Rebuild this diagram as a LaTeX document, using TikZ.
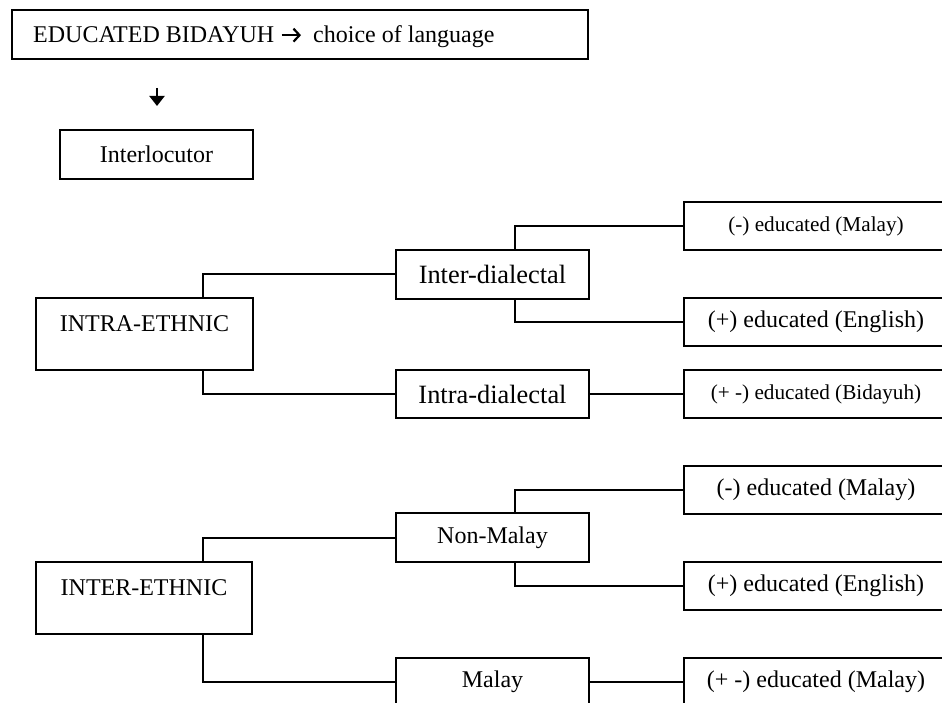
\documentclass[tikz,border=0pt]{standalone}
\usepackage{fontspec}
\setmainfont{Liberation Serif}
\usetikzlibrary{arrows.meta}
\tikzset{
  box/.style={draw=black, line width=2pt, rectangle, inner sep=0pt, fill=none},
  conn/.style={draw=black, line width=2pt},
  ftmain/.style={font=\fontsize{24}{28}\selectfont},
  ftbig/.style={font=\fontsize{26.4}{30}\selectfont},
  ftsmall/.style={font=\fontsize{21.2}{25}\selectfont},
}
\begin{document}
\begin{tikzpicture}[x=1pt,y=-1pt]
\path[use as bounding box, clip] (0,0) rectangle (942,703);
\fill[white] (0,0) rectangle (942,703);

% top box
\node[box, minimum width=576pt, minimum height=49pt] (top) at (300,34.5) {};
\node[ftmain, anchor=base west, inner sep=0pt] (t1) at (33,43) {EDUCATED BIDAYUH};
\node[ftmain, anchor=base west, inner sep=0pt] (t2) at (313,43) {choice of language};
\draw[line width=2.2pt, shorten <=7pt, shorten >=12pt,
      -{Straight Barb[length=6pt,width=13pt,line width=2.2pt]}]
  (t1.east) -- (t1.east -| t2.west);

% free arrow
\coordinate (a1) at (157,88);
\coordinate (a2) at (157,106);
\draw[line width=2pt, -{Triangle[width=15pt,length=10pt]}] (a1) -- (a2);

% Interlocutor
\node[box, ftmain, minimum width=193pt, minimum height=49pt] (intl) at (156.5,154.5) {Interlocutor};

% INTRA-ETHNIC group
\node[box, minimum width=217pt, minimum height=72pt] (intra) at (144.5,334) {};
\node[ftmain, anchor=base, inner sep=0pt] (intratxt) at (144.5,331) {INTRA-ETHNIC};
\node[box, ftbig, minimum width=193pt, minimum height=49pt] (interd) at (492.5,274.5) {Inter-dialectal};
\node[box, ftbig, minimum width=193pt, minimum height=48pt] (intrad) at (492.5,394) {Intra-dialectal};
\node[box, ftsmall, minimum width=264pt, minimum height=48pt] (r1) at (816,226) {(-) educated (Malay)};
\node[box, ftmain, minimum width=264pt, minimum height=48pt] (r2) at (816,322) {(+) educated (English)};
\node[box, ftsmall, minimum width=264pt, minimum height=48pt] (r3) at (816,394) {(+ -) educated (Bidayuh)};

\draw[conn] (intra.north west) ++(168,0) |- (interd.west);
\draw[conn] (intra.south west) ++(168,0) |- (intrad.west);
\draw[conn] (interd.north west) ++(120,0) |- (r1.west);
\draw[conn] (interd.south west) ++(120,0) |- (r2.west);
\draw[conn] (intrad.east) -- (r3.west);

% INTER-ETHNIC group
\node[box, minimum width=216pt, minimum height=72pt] (inter) at (144,598) {};
\node[ftmain, anchor=base, inner sep=0pt] (intertxt) at (144,595) {INTER-ETHNIC};
\node[box, ftmain, minimum width=193pt, minimum height=49pt] (nonm) at (492.5,537.5) {Non-Malay};
\node[box, ftmain, minimum width=193pt, minimum height=48pt] (malay) at (492.5,682) {Malay};
\node[box, ftmain, minimum width=264pt, minimum height=48pt] (r4) at (816,490) {(-) educated (Malay)};
\node[box, ftmain, minimum width=264pt, minimum height=48pt] (r5) at (816,586) {(+) educated (English)};
\node[box, ftmain, minimum width=264pt, minimum height=48pt] (r6) at (816,682) {(+ -) educated (Malay)};

\draw[conn] (inter.north west) ++(168,0) |- (nonm.west);
\draw[conn] (inter.south west) ++(168,0) |- (malay.west);
\draw[conn] (nonm.north west) ++(120,0) |- (r4.west);
\draw[conn] (nonm.south west) ++(120,0) |- (r5.west);
\draw[conn] (malay.east) -- (r6.west);
\end{tikzpicture}
\end{document}
